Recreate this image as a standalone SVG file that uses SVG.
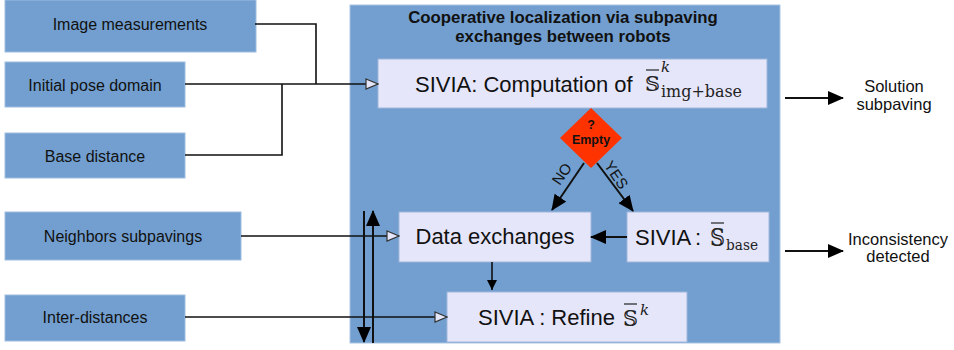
<svg xmlns="http://www.w3.org/2000/svg" width="954" height="350" viewBox="0 0 954 350">
<defs>
<style>
.in{fill:#729fcf;stroke:#9dbde0;stroke-width:1}
.cont{fill:#729fcf;stroke:#a9c4e4;stroke-width:1}
.proc{fill:#e6e6fa;stroke:#9fb6da;stroke-width:1}
.lbl{font-family:"Liberation Sans",Arial,sans-serif;font-size:16px;fill:#111;text-anchor:middle}
.out{font-family:"Liberation Sans",Arial,sans-serif;font-size:16.5px;fill:#111;text-anchor:middle}
.big{font-family:"Liberation Sans",Arial,sans-serif;font-size:22px;fill:#111}
.math{font-family:"DejaVu Serif","Liberation Serif",serif;fill:#222}
.ov{stroke:#222;stroke-width:1.2}
.title{font-family:"Liberation Sans",Arial,sans-serif;font-size:16.8px;font-weight:bold;fill:#111;text-anchor:middle}
.dec{font-family:"Liberation Sans",Arial,sans-serif;font-size:12.5px;font-weight:bold;text-anchor:middle;fill:#111}
.yn{font-family:"Liberation Sans",Arial,sans-serif;font-size:15px;text-anchor:middle;fill:#111}
.ln{fill:none;stroke:#111;stroke-width:1.6}
.ln2{fill:none;stroke:#111;stroke-width:2}
</style>
<marker id="open" markerWidth="14" markerHeight="12" refX="13" refY="6" orient="auto" markerUnits="userSpaceOnUse">
<path d="M1,1 L13,6 L1,11 Z" fill="#e6e6fa" stroke="#333" stroke-width="1.2"/>
</marker>
<marker id="fill" markerWidth="16" markerHeight="14" refX="15" refY="7" orient="auto" markerUnits="userSpaceOnUse">
<path d="M0,0 L16,7 L0,14 Z" fill="#000"/>
</marker>
<marker id="fillS" markerWidth="10" markerHeight="10" refX="10" refY="5" orient="auto" markerUnits="userSpaceOnUse">
<path d="M0,0 L10,5 L0,10 Z" fill="#000"/>
</marker>
</defs>

<g id="container">
<rect class="cont" x="350" y="5" width="430" height="338"/>
<text class="title" x="563" y="23">Cooperative localization via subpaving</text>
<text class="title" x="563" y="42">exchanges between robots</text>
</g>

<g id="image-measurements"><rect class="in" x="5" y="0" width="251" height="52"/><text class="lbl" x="130" y="30">Image measurements</text></g>
<g id="initial-pose"><rect class="in" x="5" y="62" width="180" height="45"/><text class="lbl" x="95" y="91">Initial pose domain</text></g>
<g id="base-distance"><rect class="in" x="5" y="133" width="180" height="45"/><text class="lbl" x="95" y="162">Base distance</text></g>
<g id="neighbors"><rect class="in" x="5" y="212" width="236" height="48"/><text class="lbl" x="123" y="242">Neighbors subpavings</text></g>
<g id="inter-distances"><rect class="in" x="5" y="295" width="180" height="46"/><text class="lbl" x="95" y="323">Inter-distances</text></g>

<g id="sivia-computation">
<rect class="proc" x="378" y="59" width="389" height="49"/>
<text class="big" x="415" y="92">SIVIA: Computation of</text>
<text class="math" x="645" y="91" font-size="21" textLength="15" lengthAdjust="spacingAndGlyphs">𝕊</text>
<line class="ov" x1="646" y1="70" x2="659" y2="70"/>
<text class="math" x="661" y="72" font-size="15" font-style="italic">k</text>
<text class="math" x="661" y="97" font-size="16" textLength="81" lengthAdjust="spacingAndGlyphs">img+base</text>
</g>

<g id="empty-decision">
<polygon points="591,108 622,138 591,168 560,138" fill="#ff3300"/>
<text class="dec" x="591" y="129">?</text>
<text class="dec" x="591" y="144">Empty</text>
</g>

<g id="data-exchanges">
<rect class="proc" x="399" y="212" width="192" height="50"/>
<text class="big" x="495" y="244" text-anchor="middle">Data exchanges</text>
</g>

<g id="sivia-base">
<rect class="proc" x="627" y="212" width="142" height="50"/>
<text class="big" x="635" y="245">SIVIA</text>
<text class="big" x="695" y="245">:</text>
<text class="math" x="710" y="246" font-size="24" textLength="15" lengthAdjust="spacingAndGlyphs">𝕊</text>
<line class="ov" x1="711" y1="223" x2="724" y2="223"/>
<text class="math" x="726" y="250" font-size="15" textLength="32" lengthAdjust="spacingAndGlyphs">base</text>
</g>

<g id="sivia-refine">
<rect class="proc" x="447" y="292" width="240" height="50"/>
<text class="big" x="478" y="325">SIVIA : Refine</text>
<text class="math" x="623" y="326" font-size="23" textLength="15" lengthAdjust="spacingAndGlyphs">𝕊</text>
<line class="ov" x1="624" y1="304" x2="637" y2="304"/>
<text class="math" x="640" y="315" font-size="15" font-style="italic">k</text>
</g>

<g id="outputs">
<text class="out" x="894" y="92">Solution</text>
<text class="out" x="894" y="110">subpaving</text>
<text class="out" x="898" y="245">Inconsistency</text>
<text class="out" x="898" y="262">detected</text>
</g>

<g id="connectors">
<polyline class="ln" points="255,24 316,24 316,84"/>
<polyline class="ln" points="185,155 282,155 282,84"/>
<line class="ln" x1="185" y1="84" x2="378" y2="84" marker-end="url(#open)"/>
<line class="ln" x1="241" y1="236" x2="399" y2="236" marker-end="url(#open)"/>
<line class="ln" x1="185" y1="317" x2="447" y2="317" marker-end="url(#open)"/>
<line class="ln2" x1="364" y1="211" x2="364" y2="342" marker-end="url(#fill)"/>
<line class="ln2" x1="373" y1="343" x2="373" y2="211" marker-end="url(#fill)"/>
<line class="ln2" x1="584" y1="163" x2="552" y2="210" marker-end="url(#fill)"/>
<line class="ln2" x1="597" y1="163" x2="633" y2="211" marker-end="url(#fill)"/>
<line class="ln2" x1="627" y1="237" x2="591" y2="237" marker-end="url(#fill)"/>
<line class="ln" x1="492" y1="262" x2="492" y2="290" marker-end="url(#fillS)"/>
<line class="ln2" x1="785" y1="98" x2="843" y2="98" marker-end="url(#fill)"/>
<line class="ln2" x1="785" y1="251" x2="843" y2="251" marker-end="url(#fill)"/>
<text class="yn" x="562" y="179" transform="rotate(-56 562 174)">NO</text>
<text class="yn" x="616" y="180" transform="rotate(56 616 175)">YES</text>
</g>
</svg>
